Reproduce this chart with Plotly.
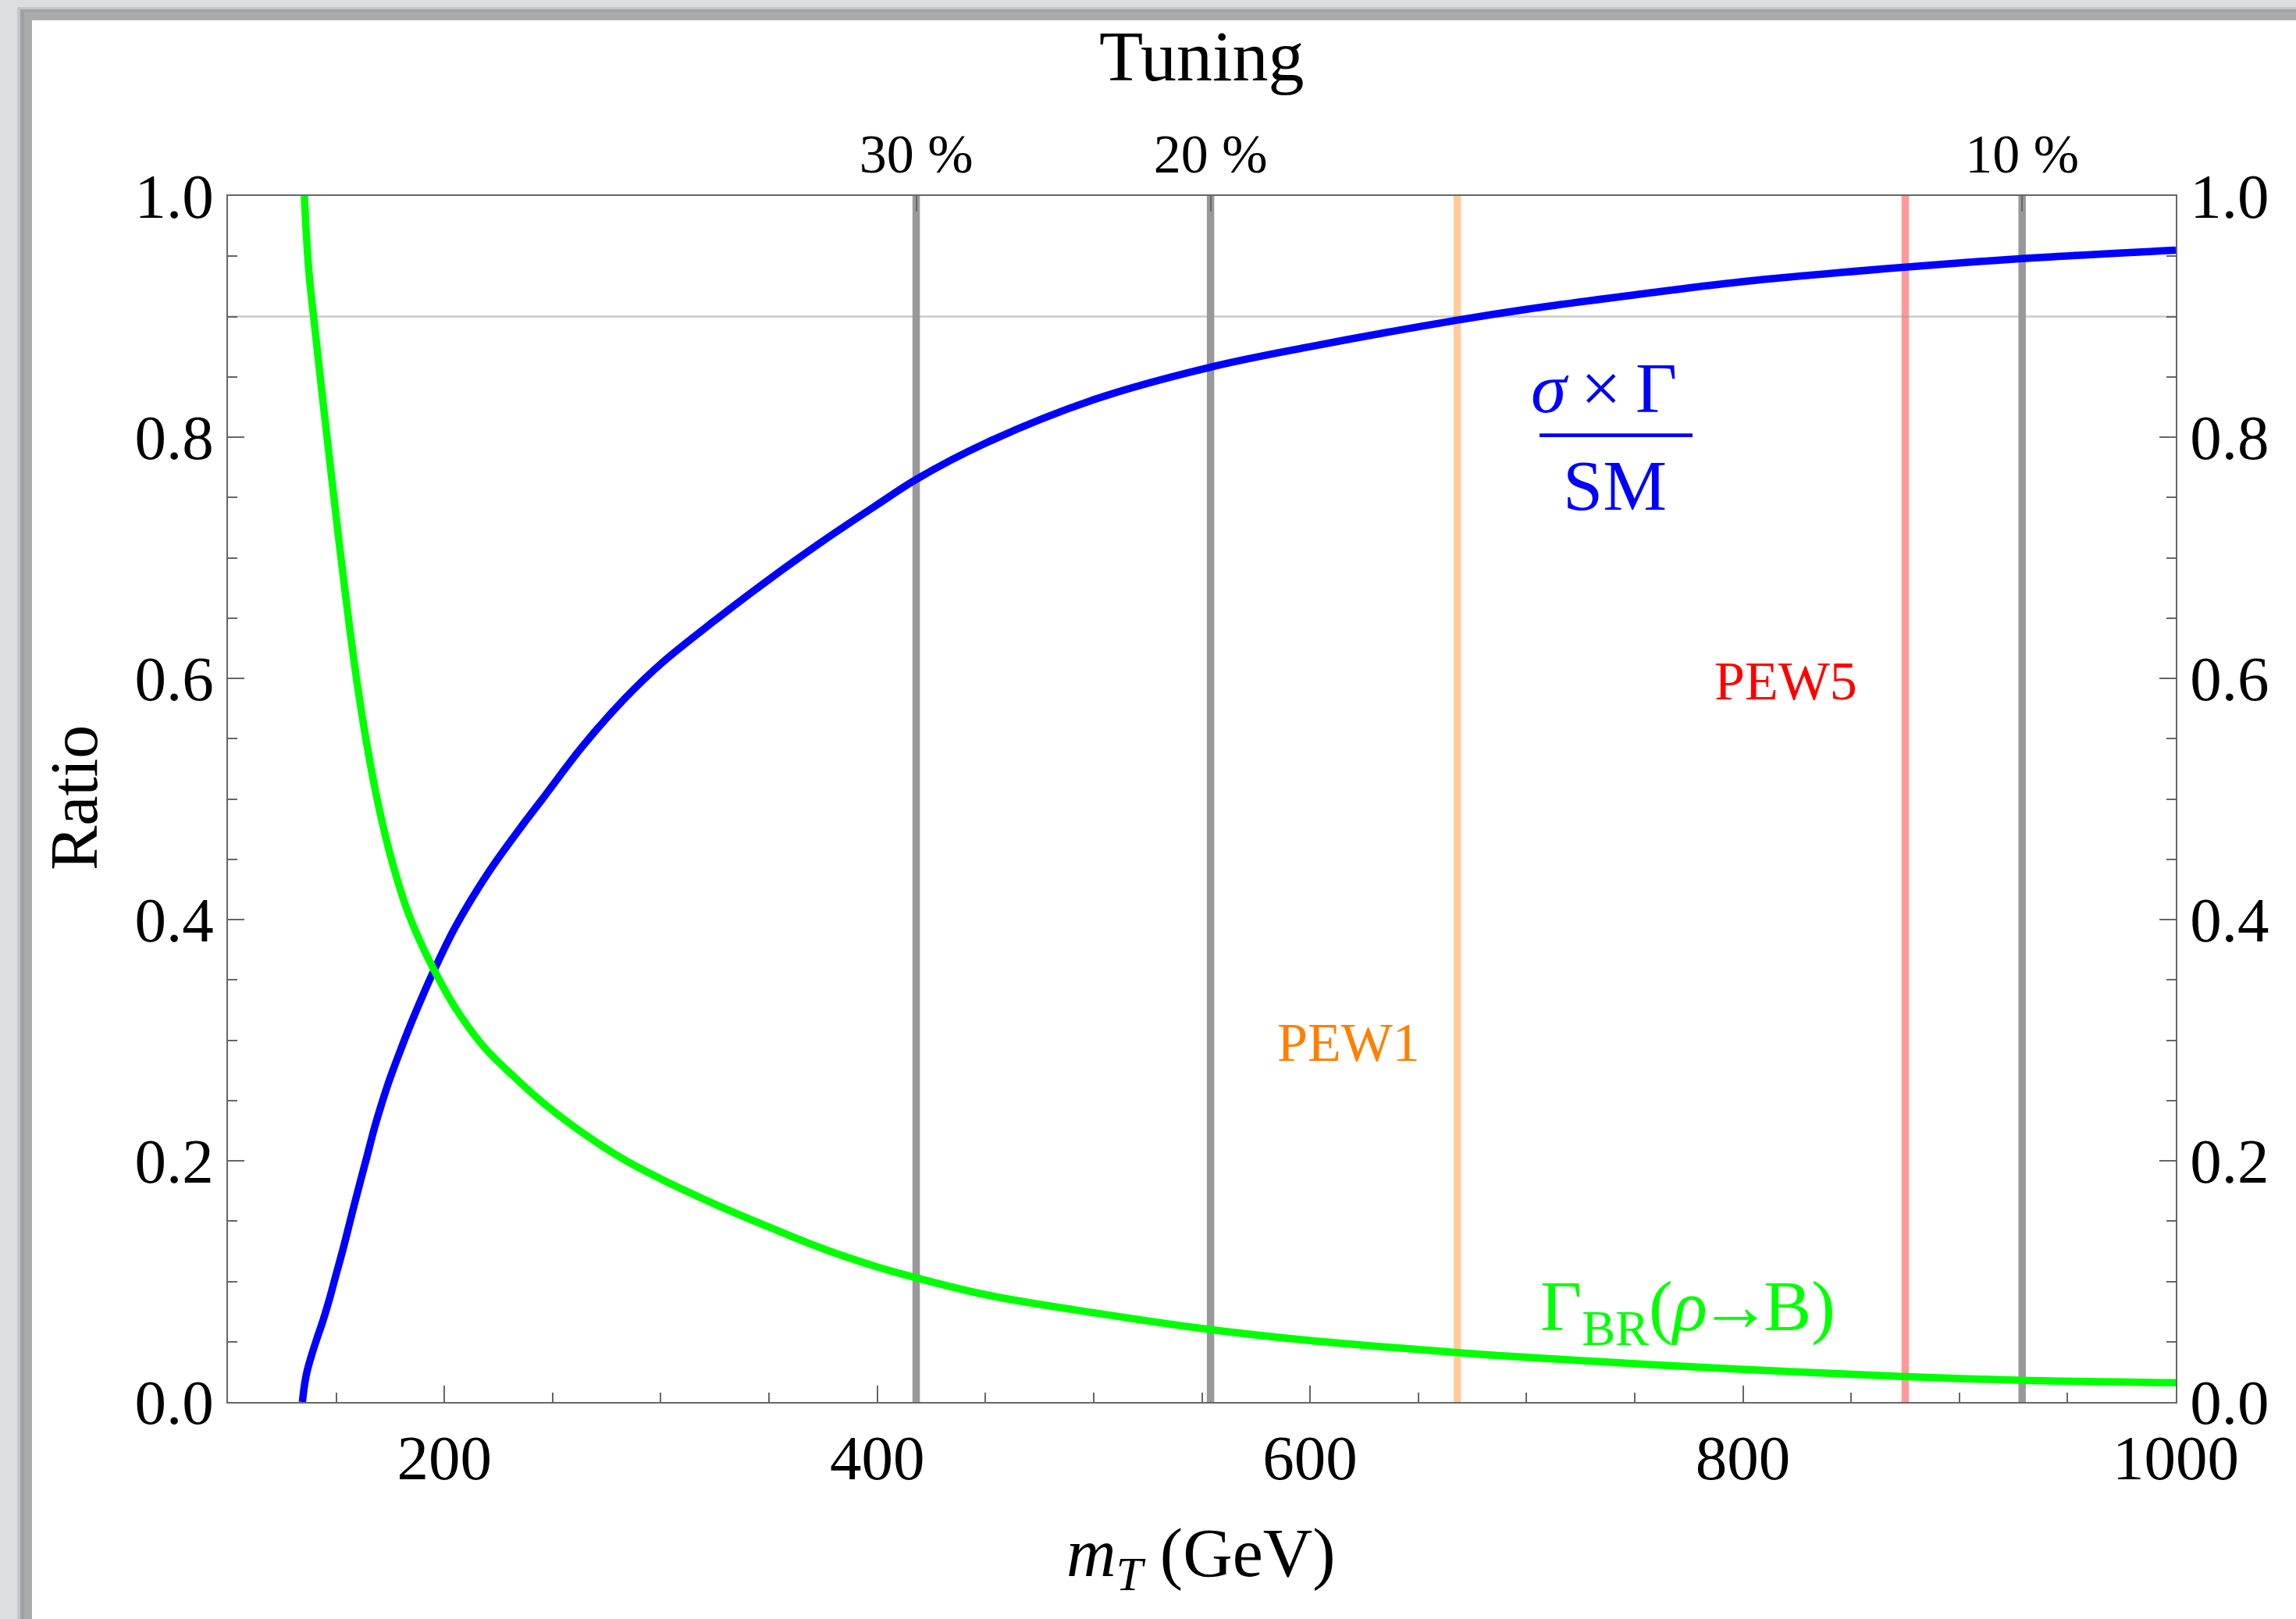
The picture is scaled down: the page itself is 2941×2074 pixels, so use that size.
import plotly.graph_objects as go

# ---------------- data ----------------
mass_sigma = [134.4, 135.2, 136.5, 138.5, 141.0, 144.0, 147.0, 150.0, 153.5, 157.0,
              160.6, 164.0, 167.8, 171.5, 175.0, 180.0, 184.6, 190.0, 195.5, 205.1,
              220.7, 235.1, 245.3, 264.0, 283.2, 300, 325, 350, 375, 400, 418,
              450, 500, 554, 600, 668, 700, 750, 800, 875, 929, 1000]
ratio_sigma = [0.000, 0.012, 0.025, 0.038, 0.052, 0.068, 0.086, 0.106, 0.129, 0.154,
               0.179, 0.202, 0.228, 0.250, 0.269, 0.293, 0.314, 0.337, 0.359, 0.394,
               0.440, 0.476, 0.500, 0.544, 0.583, 0.612, 0.648, 0.682, 0.714, 0.744, 0.765,
               0.795, 0.831, 0.858, 0.875, 0.897, 0.906, 0.918, 0.929, 0.941, 0.948, 0.955]

mass_br = [135.3, 136.0, 137.5, 140.0, 144.0, 148.0, 152.0, 156.0, 160.0, 164.0,
           168.0, 172.0, 176.0, 182.0, 188.0, 195.0, 205.0, 218.0, 232.0, 247.0,
           264.0, 283.0, 300, 325, 350, 375, 400, 418, 450, 500, 554, 600, 668, 700,
           800, 875, 929, 1000]
ratio_br = [1.000, 0.975, 0.935, 0.893, 0.828, 0.765, 0.703, 0.645, 0.592, 0.547,
            0.508, 0.475, 0.447, 0.412, 0.385, 0.359, 0.327, 0.295, 0.270, 0.246,
            0.223, 0.201, 0.185, 0.164, 0.145, 0.127, 0.112, 0.103, 0.089, 0.074,
            0.060, 0.051, 0.041, 0.037, 0.027, 0.021, 0.018, 0.016]

tuning_mass = [418, 554, 929]
tuning_labels = ["30 %", "20 %", "10 %"]
pew_mass = [668, 875]
pew_labels = ["PEW1", "PEW5"]
reference_ratio = 0.9
x_ticks = [200, 400, 600, 800, 1000]
y_ticks = [0.0, 0.2, 0.4, 0.6, 0.8, 1.0]

# ---------------- layout geometry ----------------
W, H = 2941, 2074
ML, MR, MT, MB = 292, 154, 251, 278
PW = W - ML - MR
PH = H - MT - MB


def px(x):
    return (x - ML) / PW


def py(y):
    return (H - MB - y) / PH


SERIF = "Liberation Serif"
BLUE = "#0000ff"
GREEN = "#00ff00"
AX = "#666666"

fig = go.Figure()

fig.add_trace(go.Scatter(x=mass_sigma, y=ratio_sigma, mode="lines",
                         line=dict(color=BLUE, width=9.5, shape="spline", smoothing=1.0),
                         showlegend=False, hoverinfo="skip"))
fig.add_trace(go.Scatter(x=mass_br, y=ratio_br, mode="lines",
                         line=dict(color=GREEN, width=9.5, shape="spline", smoothing=1.0),
                         showlegend=False, hoverinfo="skip"))
# dummy trace to activate the top / right axes
fig.add_trace(go.Scatter(x=[None], y=[None], xaxis="x2", yaxis="y2",
                         showlegend=False, hoverinfo="skip"))

shapes = []


def rect(x0, y0, x1, y1, color):
    return dict(type="rect", xref="paper", yref="paper",
                x0=px(x0), x1=px(x1), y0=py(y1), y1=py(y0),
                fillcolor=color, line=dict(width=0), layer="below")


# window frame (outside the plot)
shapes.append(rect(0, 0, W, 15, "#dcdee0"))
shapes.append(rect(0, 0, 31, H, "#dcdee0"))
shapes.append(rect(22, 9, W, 15, "#c4c6c7"))
shapes.append(rect(22, 9, 31, H, "#c4c6c7"))
shapes.append(rect(26, 12, W, 15, "#9fa1a2"))
shapes.append(rect(26, 12, 31, H, "#9fa1a2"))
shapes.append(rect(31, 15, W, 26, "#a8abaa"))
shapes.append(rect(31, 15, 41, H, "#a8abaa"))

# vertical reference lines
for m in tuning_mass:
    shapes.append(dict(type="line", xref="x", yref="y", x0=m, x1=m, y0=0, y1=1,
                       line=dict(color="#999999", width=9.5), layer="below"))
pew_line_colors = ["#ffcc99", "#ff9999"]
for m, c in zip(pew_mass, pew_line_colors):
    shapes.append(dict(type="line", xref="x", yref="y", x0=m, x1=m, y0=0, y1=1,
                       line=dict(color=c, width=9.5), layer="below"))
# horizontal 0.9 line
shapes.append(dict(type="line", xref="x", yref="y", x0=100, x1=1000,
                   y0=reference_ratio, y1=reference_ratio,
                   line=dict(color="rgba(150,150,150,0.5)", width=2.5), layer="below"))

# fraction bar for sigma x Gamma / SM
shapes.append(dict(type="line", xref="paper", yref="paper",
                   x0=px(1972), x1=px(2168), y0=py(557.7), y1=py(557.7),
                   line=dict(color=BLUE, width=4.7)))

ASC = 0.891


def ann(text, xc, baseline, size, color="black", angle=0):
    return dict(text=text, xref="paper", yref="paper", x=px(xc),
                y=py(baseline - ASC * size), xanchor="center", yanchor="top",
                showarrow=False, borderpad=0, textangle=angle,
                font=dict(family=SERIF, size=size, color=color))


annotations = [
    ann("Tuning", 1539.5, 101.7, 92),
    ann("<i>m</i><sub><i>T</i></sub> (GeV)", 1538, 2018, 88),
    ann("<i>σ</i>\u2009×\u2009Γ", 2054, 526.7, 92, BLUE),
    ann("SM", 2068, 651.7, 92, BLUE),
    ann("Γ<sub>BR</sub>(<span style=\"letter-spacing:-10px\"><i>ρ</i>→</span>B)",
        2162, 1702.7, 92, GREEN),
    ann(pew_labels[0], 1727, 1358, 70, "#ff8000"),
    ann(pew_labels[1], 2287, 895.7, 70, "#ff0000"),
    dict(text="Ratio", xref="paper", yref="paper", x=px(95), y=py(1022),
         xanchor="center", yanchor="middle", showarrow=False, borderpad=0,
         textangle=-90, font=dict(family=SERIF, size=86, color="black")),
]

tickfont = dict(family=SERIF, size=81, color="black")
ytext = [f"{v:.1f}" for v in y_ticks]

common_y = dict(range=[0, 1], tickmode="array", tickvals=y_ticks, ticktext=ytext,
                ticks="inside", ticklen=21, tickwidth=2, tickcolor=AX,
                showline=True, linecolor=AX, linewidth=2, showgrid=False,
                zeroline=False, tickfont=tickfont,
                minor=dict(tickmode="linear", tick0=0, dtick=0.05, ticks="inside",
                           ticklen=12, tickwidth=2, tickcolor=AX, showgrid=False))

fig.update_layout(
    width=W, height=H,
    margin=dict(l=ML, r=MR, t=MT, b=MB, autoexpand=False),
    paper_bgcolor="white", plot_bgcolor="white",
    xaxis=dict(range=[100, 1000], tickmode="array", tickvals=x_ticks,
               ticktext=[str(v) for v in x_ticks],
               ticks="inside", ticklen=21, tickwidth=2, tickcolor=AX,
               showline=True, linecolor=AX, linewidth=2, showgrid=False,
               zeroline=False, tickfont=tickfont,
               minor=dict(tickmode="linear", tick0=100, dtick=50, ticks="inside",
                          ticklen=12, tickwidth=2, tickcolor=AX, showgrid=False)),
    xaxis2=dict(range=[100, 1000], overlaying="x", side="top", anchor="y2",
                tickmode="array", tickvals=tuning_mass, ticktext=tuning_labels,
                ticks="inside", ticklen=20, tickwidth=2, tickcolor=AX,
                showline=True, linecolor=AX, linewidth=2, showgrid=False,
                zeroline=False, tickfont=dict(family=SERIF, size=70, color="black")),
    yaxis=common_y,
    yaxis2=dict(overlaying="y", side="right", anchor="x2", **common_y),
    shapes=shapes,
    annotations=annotations,
)

fig.write_html("out.html",
               config={"displayModeBar": False},
               post_script="document.body.style.margin='0';"
                           "document.documentElement.style.margin='0';"
                           "document.body.style.overflow='hidden';")
